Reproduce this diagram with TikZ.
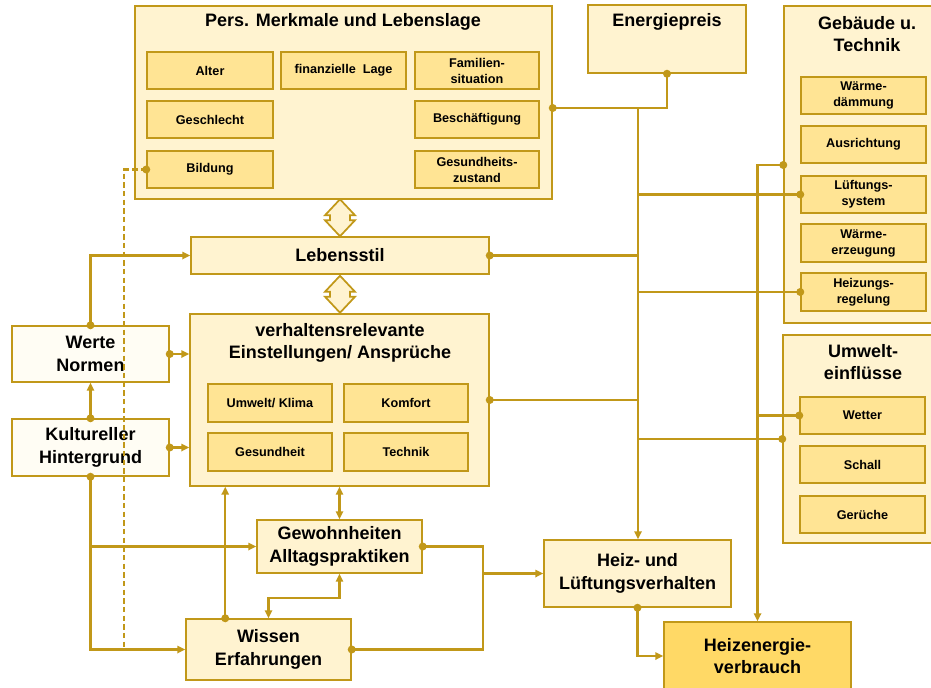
\documentclass[tikz,border=0pt]{standalone}
\usepackage{fontspec}
\setmainfont{Liberation Sans}
\usetikzlibrary{fit,arrows.meta,calc}
\definecolor{gold}{RGB}{193,152,25}
\definecolor{cream}{RGB}{255,243,208}
\definecolor{innerfill}{RGB}{255,228,148}
\definecolor{hevfill}{RGB}{255,217,102}
\definecolor{wfill}{RGB}{255,253,244}
\newcommand\dotat[1]{\fill[gold] (#1) circle[radius=3pt];}
% box: style, corners, name, text style, text
\newcommand\bx[5]{\node[#1, fit={#2}] (#3) {}; \node[#4] (#3-t) at (#3.center) {#5};}
\begin{document}
\begin{tikzpicture}[x=0.75pt,y=-0.75pt,
  outer/.style={draw=gold, line width=1.1pt, fill=cream, inner sep=0pt},
  wbox/.style={draw=gold, line width=1.1pt, fill=wfill, inner sep=0pt},
  hevbox/.style={draw=gold, line width=1.1pt, fill=hevfill, inner sep=0pt},
  inbox/.style={draw=gold, line width=1.1pt, fill=innerfill, inner sep=0pt},
  small/.style={font=\bfseries\fontsize{9.5}{12}\selectfont, align=center, inner sep=0pt},
  big/.style={font=\bfseries\fontsize{13.5}{17}\selectfont, align=center, inner sep=0pt},
  con/.style={draw=gold, line width=1.6pt},
  main/.style={draw=gold, line width=2.2pt},
  arr/.style={-{Triangle[length=6pt,width=5.5pt]}},
  barr/.style={{Triangle[length=6pt,width=5.5pt]}-{Triangle[length=6pt,width=5.5pt]}},
  dbl/.style={draw=gold, line width=1.3pt, fill=cream, line join=miter}]
\useasboundingbox (0,0) rectangle (931,687);
\clip (0,0) rectangle (931,687);

% Pers. Merkmale
\node[outer, fit={(135,6) (552,199)}] (pers) {};
\node[big] (pers-t) at (343,22) {Pers. Merkmale und Lebenslage};
\bx{inbox}{(147,52) (273,89)}{alter}{small}{Alter}
\bx{inbox}{(281,52) (406,89)}{finanz}{small}{finanzielle~ Lage}
\bx{inbox}{(415,52) (539,89)}{fam}{small}{Familien-\\situation}
\bx{inbox}{(147,101) (273,138)}{geschl}{small}{Geschlecht}
\bx{inbox}{(415,101) (539,138)}{besch}{small}{Beschäftigung}
\bx{inbox}{(147,151) (273,188)}{bild}{small}{Bildung}
\bx{inbox}{(415,151) (539,188)}{gesund}{small}{Gesundheits-\\zustand}

% Energiepreis
\node[outer, fit={(588,5) (746,73)}] (energie) {};
\node[big] (energie-t) at (667,22) {Energiepreis};

% Gebaeude u. Technik
\node[outer, fit={(784,6) (945,323)}] (geb) {};
\node[big] (geb-t) at (867,34) {Gebäude u.\\Technik};
\bx{inbox}{(801,77) (926,114)}{wd}{small}{Wärme-\\dämmung}
\bx{inbox}{(801,126) (926,163)}{aus}{small}{Ausrichtung}
\bx{inbox}{(801,176) (926,213)}{lue}{small}{Lüftungs-\\system}
\bx{inbox}{(801,224) (926,262)}{wer}{small}{Wärme-\\erzeugung}
\bx{inbox}{(801,273) (926,311)}{hr}{small}{Heizungs-\\regelung}

% Umwelteinfluesse
\node[outer, fit={(783,335) (945,543)}] (umw) {};
\node[big] (umw-t) at (863,362) {Umwelt-\\einflüsse};
\bx{inbox}{(800,397) (925,434)}{wetter}{small}{Wetter}
\bx{inbox}{(800,446) (925,483)}{schall}{small}{Schall}
\bx{inbox}{(800,496) (925,533)}{geruch}{small}{Gerüche}

% Lebensstil
\bx{outer}{(191,237) (489,274)}{leben}{big}{Lebensstil}

% Einstellungen
\node[outer, fit={(190,314) (489,486)}] (einst) {};
\node[big] (einst-t) at (340,343) {verhaltensrelevante\\Einstellungen/ Ansprüche};
\bx{inbox}{(208,384) (332,422)}{umkl}{small}{Umwelt/ Klima}
\bx{inbox}{(344,384) (468,422)}{komf}{small}{Komfort}
\bx{inbox}{(208,433) (332,471)}{gesh}{small}{Gesundheit}
\bx{inbox}{(344,433) (468,471)}{tech}{small}{Technik}

% left boxes
\bx{wbox}{(12,326) (169,382)}{werte}{big}{Werte\\Normen}
\bx{wbox}{(12,419) (169,476)}{kult}{big}{Kultureller\\Hintergrund}

% lower boxes
\bx{outer}{(257,520) (422,573)}{gew}{big}{Gewohnheiten\\Alltagspraktiken}
\bx{outer}{(186,619) (351,680)}{wissen}{big}{Wissen\\Erfahrungen}
\bx{outer}{(544,540) (731,607)}{heiz}{big}{Heiz- und\\Lüftungsverhalten}
\bx{hevbox}{(664,622) (851,690)}{hev}{big}{Heizenergie-\\verbrauch}

% double block arrows
\draw[dbl, shift={(leben.north)}] (0,-37) -- (-15,-21) -- (-10,-21) -- (-10,-16) -- (-15,-16) -- (0,0) -- (15,-16) -- (10,-16) -- (10,-21) -- (15,-21) -- cycle;
\draw[dbl, shift={(leben.south)}] (0,1) -- (-15,17) -- (-10,17) -- (-10,22) -- (-15,22) -- (0,38) -- (15,22) -- (10,22) -- (10,17) -- (15,17) -- cycle;

% main vertical to Heiz- und Lueftungsverhalten
\coordinate (J1) at (638,108);
\draw[main, arr] (J1) -- (heiz.north -| J1);
\draw[con] (pers.east |- J1) -- (J1);
\draw[con] (energie.south) |- (J1);
\draw[con] (lue.west) -- (lue.west -| J1);
\draw[con] (leben.east) -- (leben.east -| J1);
\draw[con] (hr.west) -- (hr.west -| J1);
\draw[con] (einst.east) -- (einst.east -| J1);
\draw[con] (umw.west) -- (umw.west -| J1);

% second vertical to Heizenergieverbrauch
\coordinate (J2) at (757,165);
\draw[con, arr] (geb.west |- J2) -| (hev.north);
\draw[con] (wetter.west) -- (wetter.west -| hev.north);

% Heiz -> Heizenergie
\draw[con, arr] (heiz.south) |- (hev.west);

% left side
\draw[con, arr] (werte.north) |- (leben.west);
\draw[con, arr] (werte.east) -- (werte.east -| einst.west);
\draw[con, arr] (kult.north) -- (werte.south);
\draw[con, arr] (kult.east) -- (kult.east -| einst.west);
\draw[con, arr] (kult.south) |- (wissen.west);
\draw[con, arr] (kult.south |- gew.west) -- (gew.west);
\draw[con, dash pattern=on 4pt off 2.5pt] (bild.west) -- ++(-22,0) |- (wissen.west);

% lower middle
\coordinate (WK) at ($(wissen.north west)!0.24!(wissen.north east)$);
\draw[con, arr] (WK) -- (WK |- einst.south);
\draw[con, barr] (einst.south) -- (gew.north);
\draw[con, barr] (gew.south) -- ++(0,24) -| (wissen.north);
\coordinate (J3) at ($(heiz.west)+(-60,0)$);
\draw[con] (gew.east) -| (J3);
\draw[con] (wissen.east) -| (J3);
\draw[con, arr] (J3) -- (heiz.west);

% dots
\dotat{pers.east |- J1}
\dotat{energie.south}
\dotat{lue.west}
\dotat{leben.east}
\dotat{hr.west}
\dotat{einst.east}
\dotat{umw.west}
\dotat{geb.west |- J2}
\dotat{wetter.west}
\dotat{heiz.south}
\dotat{werte.north}
\dotat{werte.east}
\dotat{kult.north}
\dotat{kult.east}
\dotat{kult.south}
\dotat{WK}
\dotat{gew.east}
\dotat{wissen.east}
\dotat{bild.west}
\end{tikzpicture}
\end{document}
